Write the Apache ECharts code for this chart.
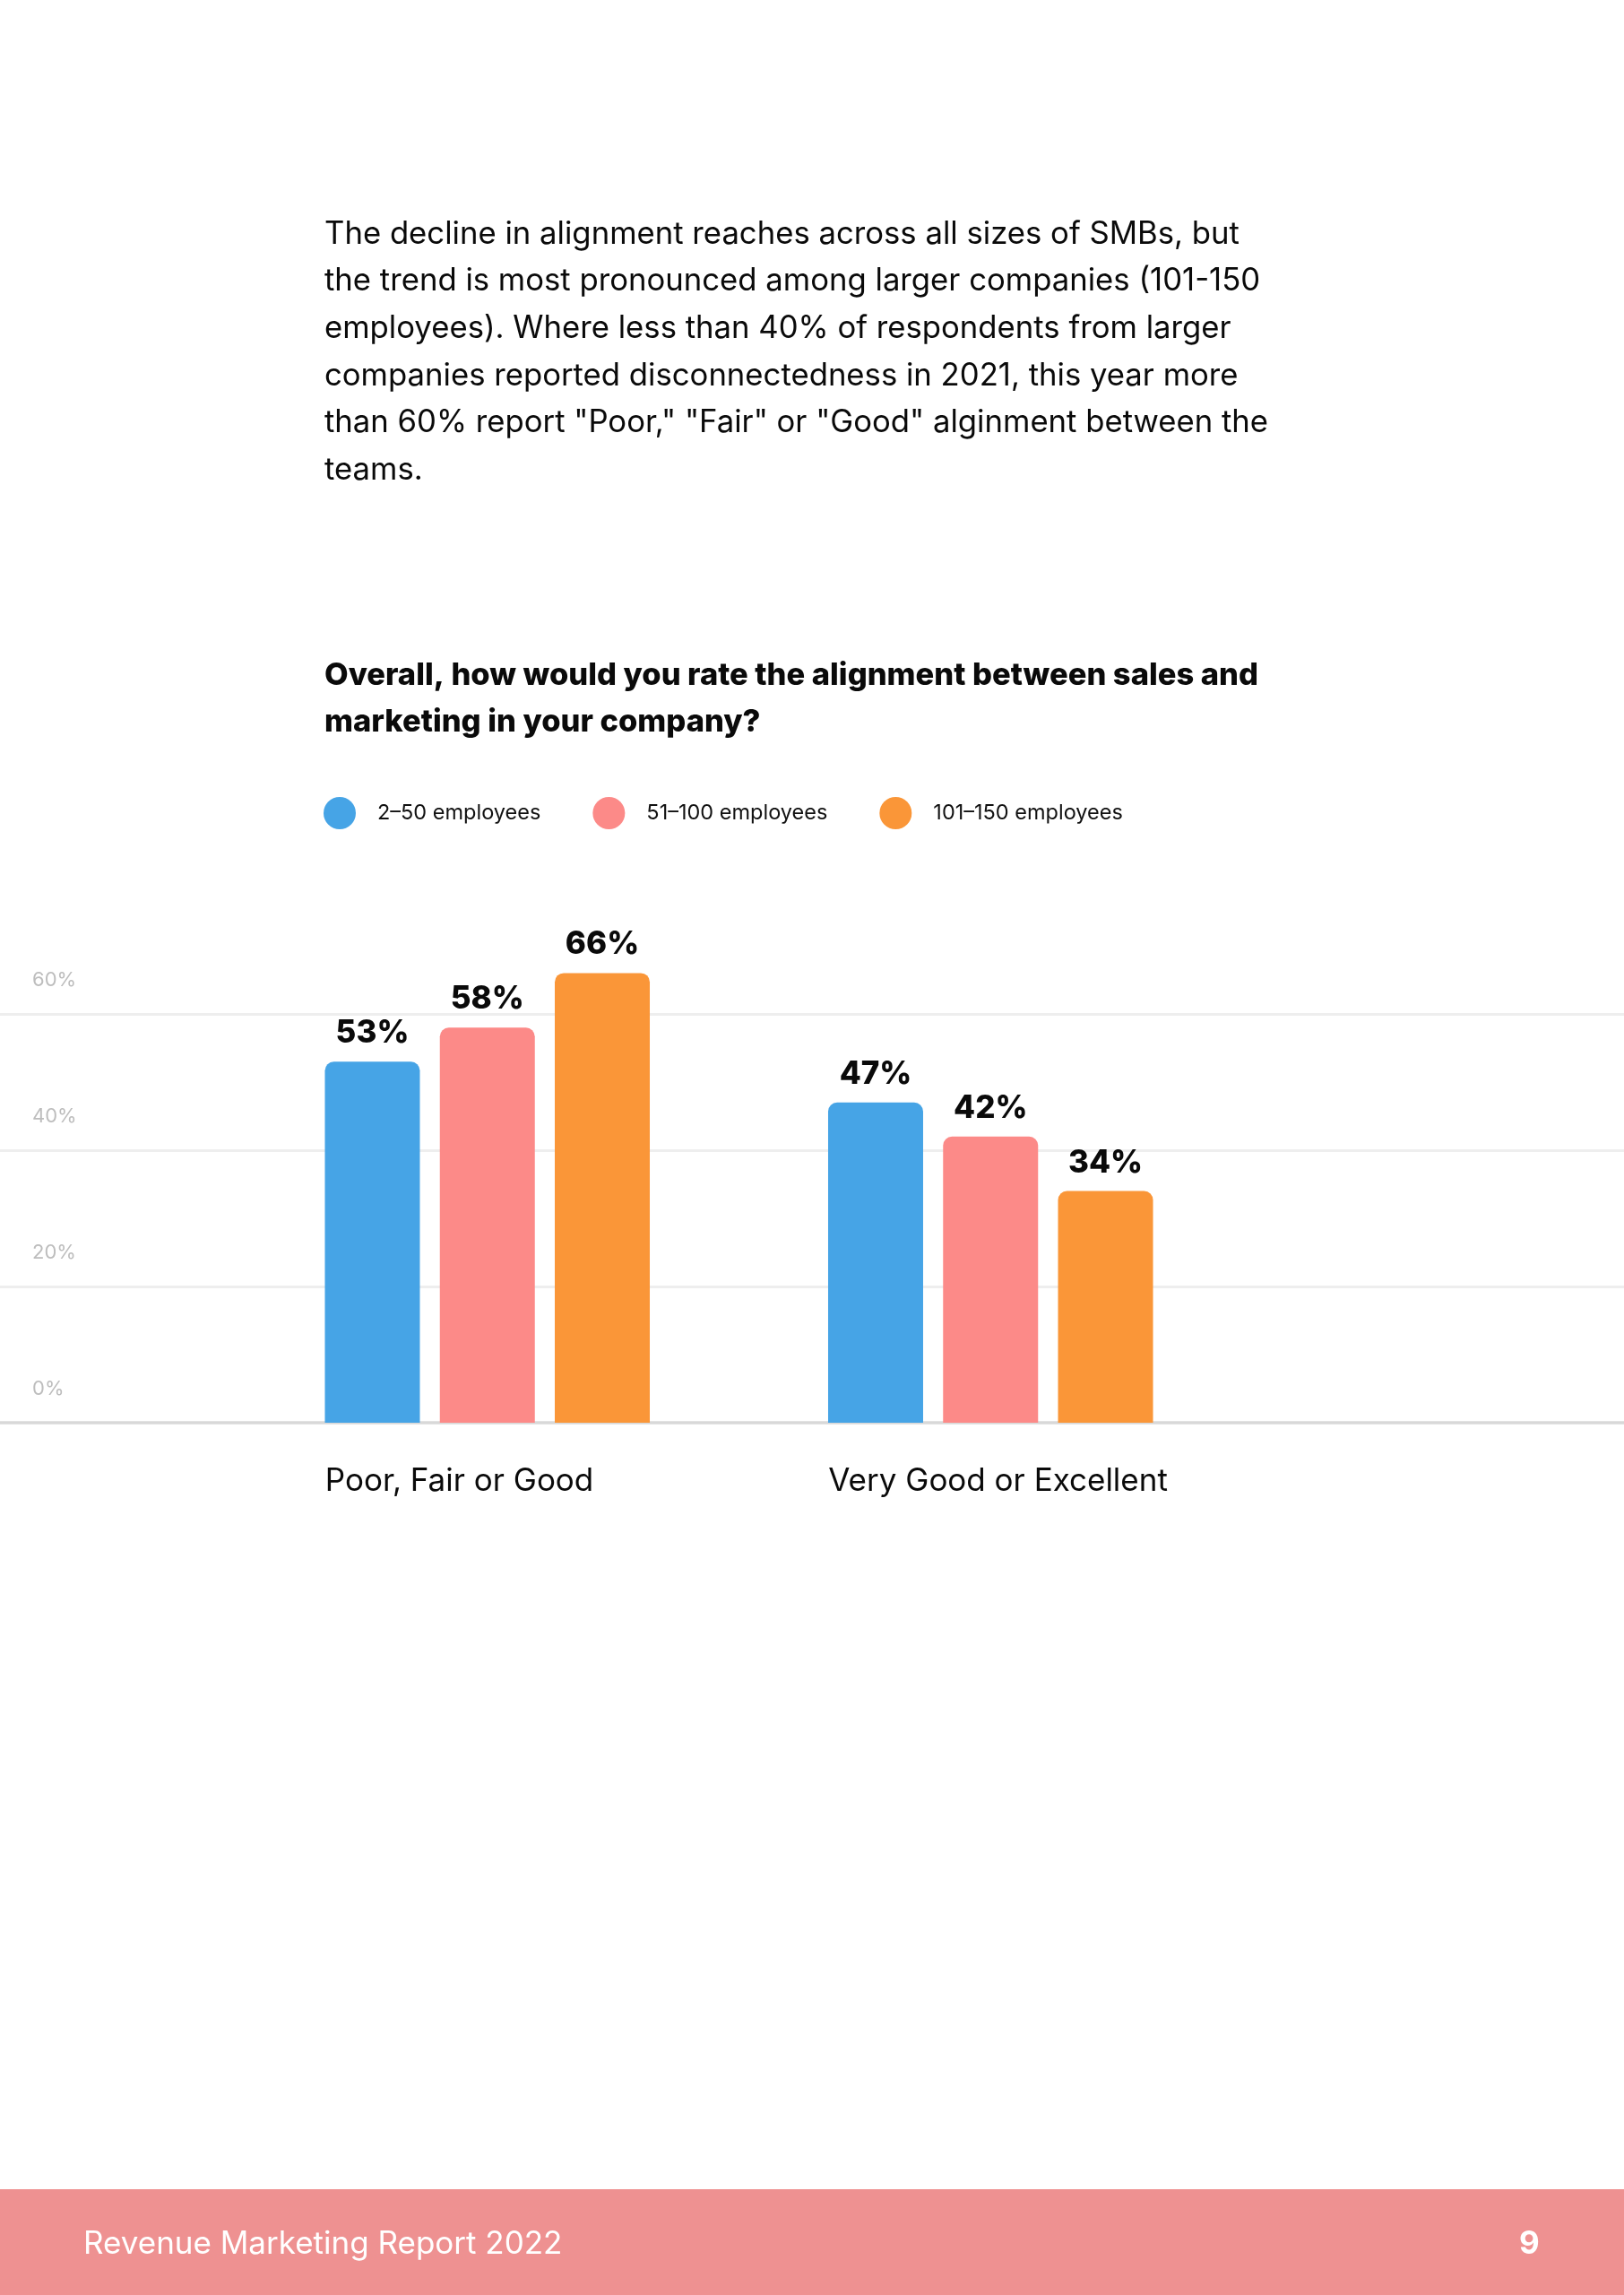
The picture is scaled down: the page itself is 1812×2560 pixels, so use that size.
<!DOCTYPE html>
<html>
<head>
<meta charset="utf-8">
<script src="https://cdn.jsdelivr.net/npm/echarts@6/dist/echarts.min.js"></script>
<style>
  html, body { margin: 0; padding: 0; background: #ffffff; }
  #chart { width: 1812px; height: 2560px; }
</style>
</head>
<body>
<div id="chart"></div>
<script>
// ---- data ----
const categories = ['Poor, Fair or Good', 'Very Good or Excellent'];
const seriesNames = ['2–50 employees', '51–100 employees', '101–150 employees'];
const small = [53, 47];
const medium = [58, 42];
const large = [66, 34];
const yTicks = [0, 20, 40, 60];

const paragraph = [
  'The decline in alignment reaches across all sizes of SMBs, but',
  'the trend is most pronounced among larger companies (101-150',
  'employees). Where less than 40% of respondents from larger',
  'companies reported disconnectedness in 2021, this year more',
  'than 60% report "Poor," "Fair" or "Good" alginment between the',
  'teams.'
];
const question = 'Overall, how would you rate the alignment between sales and\nmarketing in your company?';
const footerText = 'Revenue Marketing Report 2022';
const pageNumber = '9';

// ---- styles ----
const FONT = 'Inter';
const colors = ['#46A4E6', '#FC8A88', '#FA9638'];
const gridTop = 1055;
const gridBottom = 973;
const yMax = 70;

const chart = echarts.init(document.getElementById('chart'), null, { renderer: 'canvas' });

function barSeries(name, data, idx) {
  return {
    name: name,
    type: 'bar',
    xAxisIndex: 1,
    yAxisIndex: 1,
    data: data,
    barWidth: 106,
    barGap: '21%',
    itemStyle: { color: colors[idx], borderRadius: [10, 10, 0, 0] },
    label: {
      show: true,
      position: 'top',
      distance: 14,
      formatter: '{c}%',
      fontFamily: FONT,
      fontSize: 35,
      fontWeight: 800,
      color: '#0a0a0a'
    }
  };
}

const option = {
  backgroundColor: '#ffffff',
  animation: false,
  textStyle: { fontFamily: FONT },
  title: {
    text: question,
    left: 362,
    top: 727,
    padding: 0,
    textStyle: {
      fontFamily: FONT,
      fontSize: 34.5,
      fontWeight: 800,
      color: '#0a0a0a',
      lineHeight: 52.5
    }
  },
  legend: {
    data: seriesNames,
    left: 361,
    top: 889,
    padding: 0,
    icon: 'circle',
    itemWidth: 36,
    itemHeight: 36,
    itemGap: 58,
    textStyle: { fontFamily: FONT, fontSize: 23.5, color: '#111', padding: [0, 0, 0, 19] },
    selectedMode: false
  },
  grid: [
    { left: 0, right: 0, top: gridTop, bottom: gridBottom, containLabel: false },
    { left: 263, right: 426, top: gridTop, bottom: gridBottom, containLabel: false }
  ],
  xAxis: [
    {
      gridIndex: 0,
      type: 'category',
      data: [''],
      axisLine: { show: true, lineStyle: { color: '#d8d8d8', width: 3.5 } },
      axisTick: { show: false },
      axisLabel: { show: false }
    },
    {
      gridIndex: 1,
      type: 'category',
      data: categories,
      axisLine: { show: false },
      axisTick: { show: false },
      axisLabel: {
        interval: 0,
        margin: 48,
        width: 362,
        overflow: 'none',
        align: 'center',
        formatter: function (v) { return '{a|' + v + '}'; },
        rich: {
          a: { align: 'left', fontFamily: FONT, fontSize: 35, color: '#0a0a0a' }
        }
      }
    }
  ],
  yAxis: [
    {
      gridIndex: 0,
      type: 'value',
      min: yTicks[0],
      max: yMax,
      interval: yTicks[1] - yTicks[0],
      axisLine: { show: false },
      axisTick: { show: false },
      splitLine: {
        show: true,
        showMinLine: false,
        showMaxLine: false,
        lineStyle: { color: '#eeeeee', width: 3 }
      },
      axisLabel: {
        inside: true,
        margin: 36,
        showMaxLabel: false,
        verticalAlign: 'bottom',
        padding: [0, 0, 27, 0],
        formatter: '{value}%',
        fontFamily: FONT,
        fontSize: 22,
        color: '#bdbdbd'
      }
    },
    {
      gridIndex: 1,
      type: 'value',
      min: yTicks[0],
      max: yMax,
      interval: yTicks[1] - yTicks[0],
      show: false,
      splitLine: { show: false }
    }
  ],
  graphic: [
    {
      type: 'text',
      left: 362,
      top: 235,
      style: {
        text: paragraph.join('\n'),
        fontFamily: FONT,
        fontSize: 34.7,
        lineHeight: 52.6,
        fill: '#0a0a0a'
      }
    },
    {
      type: 'rect',
      left: 0,
      top: 2442,
      shape: { width: 1812, height: 118 },
      style: { fill: '#EE9191' }
    },
    {
      type: 'text',
      left: 93,
      top: 2486,
      style: {
        text: footerText,
        fontFamily: FONT,
        fontSize: 35,
        fill: '#ffffff'
      }
    },
    {
      type: 'text',
      left: 1695,
      top: 2486,
      style: {
        text: pageNumber,
        fontFamily: FONT,
        fontSize: 35,
        fontWeight: 'bold',
        fill: '#ffffff'
      }
    }
  ],
  series: [
    barSeries(seriesNames[0], small, 0),
    barSeries(seriesNames[1], medium, 1),
    barSeries(seriesNames[2], large, 2)
  ]
};

chart.setOption(option);
</script>
</body>
</html>
